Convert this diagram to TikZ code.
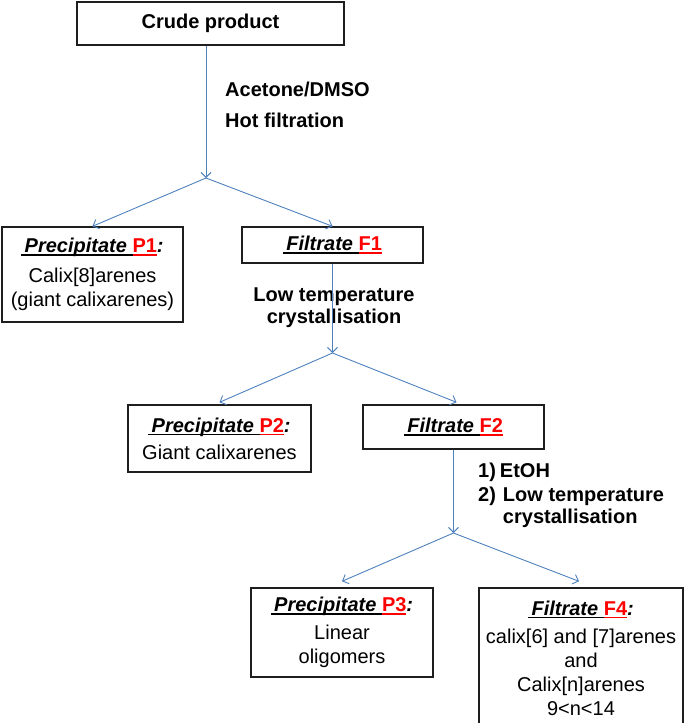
\documentclass[tikz,border=0pt]{standalone}
\usepackage{fontspec}
\setmainfont{Liberation Sans}
\usetikzlibrary{arrows.meta}
\definecolor{arrowblue}{RGB}{79,129,189}
\definecolor{boxline}{RGB}{30,30,30}
\newcommand\ulx[1]{\setbox0\hbox{#1}\rlap{\rule[-3.2pt]{\wd0}{1.6pt}}\box0}
\newcommand\headP[1]{\textbf{\ulx{\textit{\,Precipitate }}\textcolor{red}{\ulx{#1}}\textit{:}}}
\newcommand\headF[2]{\textbf{\ulx{\textit{\,Filtrate }}\textcolor{red}{\ulx{#1}}\textit{#2}}}
\tikzset{
  box/.style={draw=boxline, line width=1.4pt, rectangle, inner sep=0pt, align=center,
    font=\fontsize{20}{24}\selectfont},
  lab/.style={inner sep=0pt, font=\fontsize{20}{22}\selectfont\bfseries},
  conn/.style={draw=arrowblue, line width=0.9pt, -{Straight Barb[length=5pt,width=10pt]}},
}
\begin{document}
\begin{tikzpicture}[x=1pt,y=-1pt]
\useasboundingbox (0,0) rectangle (685,723);
% boxes
\node[box, minimum width=267pt, minimum height=43pt] (crude) at (210.5,23.5) {\textbf{Crude product}};
\node[box, minimum width=181pt, minimum height=95pt] (P1) at (92.5,274.5)
  {\headP{P1}\\[6pt] Calix[8]arenes\\(giant calixarenes)};
\node[box, minimum width=181pt, minimum height=36pt] (F1) at (332.5,245) {\headF{F1}{}};
\node[box, minimum width=183pt, minimum height=67pt] (P2) at (219.5,438.5)
  {\headP{P2}\\[3pt] Giant calixarenes};
\node[box, minimum width=181pt, minimum height=44pt] (F2) at (453.5,427) {\headF{F2}{}};
\node[box, minimum width=182pt, minimum height=89pt] (P3) at (342,632.5)
  {\headP{P3}\\[4pt] Linear\\oligomers};
\node[box, minimum width=204pt, minimum height=140pt] (F4) at (581,658)
  {\headF{F4}{:}\\[4pt] calix[6] and [7]arenes\\and\\Calix[n]arenes\\9<n<14};
% labels
\node[lab, anchor=west] (l1a) at (225,89) {Acetone/DMSO};
\node[lab, anchor=west] (l1b) at (225,120) {Hot filtration};
\node[lab, align=center] (l2) at (334,307.5) {Low temperature\\crystallisation};
\node[lab, anchor=north west] (l3) at (478,462)
  {\begin{tabular}{@{}l@{\hspace{7pt}}l@{}}1) & \hspace{-3pt}EtOH\\[2pt] 2) & Low temperature\\ & crystallisation\end{tabular}};
% branch points
\coordinate (b1) at (206,178);
\coordinate (b2) at (332.5,353);
\coordinate (b3) at (453.5,533);
% connectors
\draw[conn] (crude.south -| b1) -- (b1);
\draw[conn] (b1) -- (P1.north);
\draw[conn] (b1) -- (F1.north);
\draw[conn] (F1.south) -- (b2);
\draw[conn] (b2) -- ([yshift=2pt]P2.north);
\draw[conn] (b2) -- ([xshift=3pt,yshift=2pt]F2.north);
\draw[conn] (F2.south) -- (b3);
\draw[conn] (b3) -- ([yshift=6pt]P3.north);
\draw[conn] (b3) -- ([xshift=-2pt,yshift=6pt]F4.north);
\end{tikzpicture}
\end{document}
